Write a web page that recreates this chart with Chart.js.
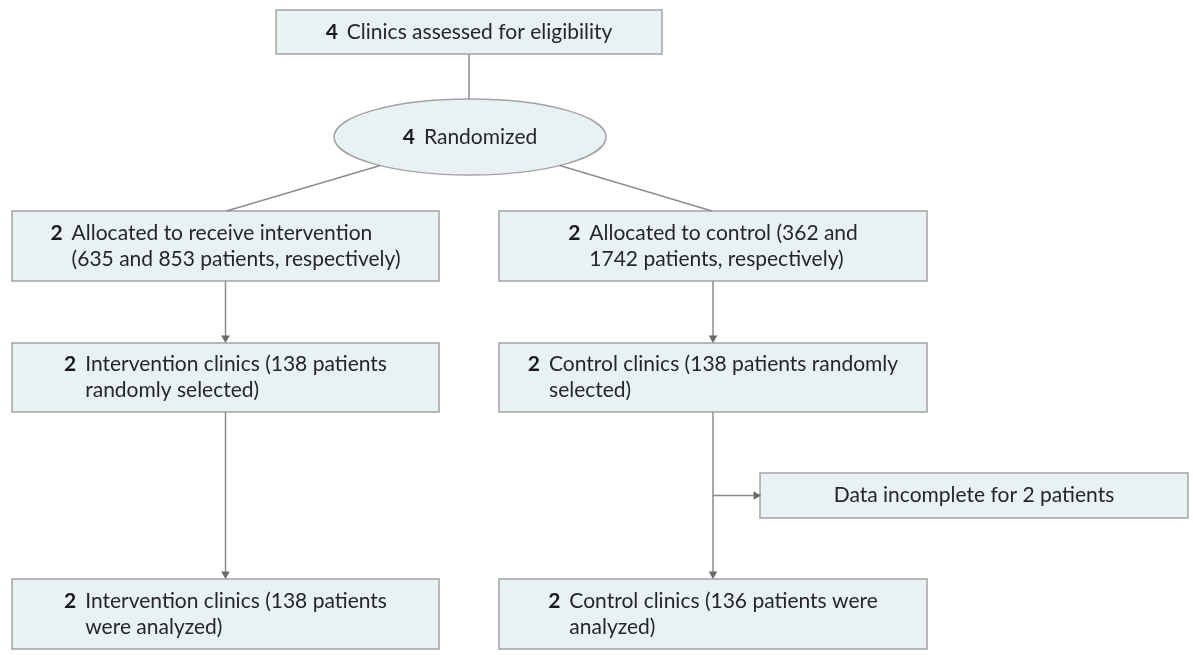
<!DOCTYPE html>
<html lang="en">
<head>
  <meta charset="UTF-8">
  <title>Flow diagram</title>
  <style>
    body { margin: 0; background: #fff; }
    #wrap { width: 1193px; height: 655px; }
  </style>
</head>
<body>
  <div id="wrap">
    <canvas id="myChart" width="1193" height="655"></canvas>
  </div>

  <script src="https://cdn.jsdelivr.net/npm/chart.js"></script>

  <script>
    // node content
    const nodeCounts = ['4', '4', '2', '2', '2', '2', '', '2', '2'];
    const nodeTexts = [
      ['Clinics assessed for eligibility'],
      ['Randomized'],
      ['Allocated to receive intervention', '(635 and 853 patients, respectively)'],
      ['Allocated to control (362 and', '1742 patients, respectively)'],
      ['Intervention clinics (138 patients', 'randomly selected)'],
      ['Control clinics (138 patients randomly', 'selected)'],
      ['Data incomplete for 2 patients'],
      ['Intervention clinics (138 patients', 'were analyzed)'],
      ['Control clinics (136 patients were', 'analyzed)']
    ];
    const nodeShapes = ['box', 'ellipse', 'box', 'box', 'box', 'box', 'box', 'box', 'box'];

    // node extents in diagram units [x0, y0, x1, y1]
    const nodeBoxes = [
      [276, 10, 662, 54],
      [334, 99, 606, 175],
      [12, 211, 439, 281],
      [499, 211, 927, 281],
      [12, 343, 439, 412],
      [499, 343, 927, 412],
      [760, 473, 1188, 518],
      [12, 579, 439, 649],
      [499, 579, 927, 649]
    ];

    // connections: [from, to, kind]
    const edges = [
      [0, 1, 'plain'],
      [1, 2, 'splitL'],
      [1, 3, 'splitR'],
      [2, 4, 'arrow'],
      [3, 5, 'arrow'],
      [4, 7, 'arrow'],
      [5, 8, 'arrow'],
      [5, 6, 'branch']
    ];

    const cx = b => (b[0] + b[2]) / 2;
    const cy = b => (b[1] + b[3]) / 2;

    function edgePoints(e) {
      const a = nodeBoxes[e[0]], b = nodeBoxes[e[1]];
      if (e[2] === 'plain') return [{x: cx(a), y: a[3]}, {x: cx(a), y: b[1]}];
      if (e[2] === 'splitL' || e[2] === 'splitR') {
        const rx = (a[2] - a[0]) / 2, ry = (a[3] - a[1]) / 2;
        const dx = (e[2] === 'splitL' ? -0.66 : 0.66) * rx;
        const y = cy(a) + ry * Math.sqrt(1 - 0.66 * 0.66);
        return [{x: cx(a) + dx, y: y}, {x: cx(b) + (e[2] === 'splitL' ? 1 : -1), y: b[1]}];
      }
      if (e[2] === 'branch') return [{x: cx(a), y: cy(b)}, {x: b[0] - 4, y: cy(b)}];
      return [{x: cx(a), y: a[3]}, {x: cx(a), y: b[1] - 5}];
    }

    const lineColor = '#8c8c8c';
    const datasets = edges.map(e => {
      const head = e[2] === 'arrow' || e[2] === 'branch';
      return {
        data: edgePoints(e),
        showLine: true,
        borderColor: lineColor,
        borderWidth: 1.5,
        pointRadius: head ? [0, 5] : 0,
        pointStyle: 'triangle',
        rotation: e[2] === 'branch' ? 90 : 180,
        pointBackgroundColor: '#6a6a6a',
        pointBorderColor: '#6a6a6a',
        pointBorderWidth: 0,
        clip: false
      };
    });

    const fontFamily = 'Lato, "Liberation Sans", sans-serif';
    const fontSize = 21;

    const nodesPlugin = {
      id: 'nodes',
      beforeDatasetsDraw(chart) {
        const c = chart.ctx, xs = chart.scales.x, ys = chart.scales.y;
        c.save();
        nodeBoxes.forEach((b, i) => {
          const x0 = xs.getPixelForValue(b[0]), x1 = xs.getPixelForValue(b[2]);
          const y0 = ys.getPixelForValue(b[1]), y1 = ys.getPixelForValue(b[3]);
          c.fillStyle = '#e8f1f4';
          c.strokeStyle = '#a3a3a3';
          c.lineWidth = 1.5;
          c.beginPath();
          if (nodeShapes[i] === 'ellipse') {
            c.ellipse((x0 + x1) / 2, (y0 + y1) / 2, (x1 - x0) / 2, (y1 - y0) / 2, 0, 0, Math.PI * 2);
          } else {
            c.rect(x0, y0, x1 - x0, y1 - y0);
          }
          c.fill();
          c.stroke();
        });
        c.restore();
      },
      afterDatasetsDraw(chart) {
        const c = chart.ctx, xs = chart.scales.x, ys = chart.scales.y;
        c.save();
        c.textBaseline = 'middle';
        c.textAlign = 'left';
        const lh = 26;
        nodeBoxes.forEach((b, i) => {
          const mx = xs.getPixelForValue(cx(b)), my = ys.getPixelForValue(cy(b));
          const lines = nodeTexts[i];
          c.font = 'bold ' + fontSize + 'px ' + fontFamily;
          const nw = nodeCounts[i] ? c.measureText(nodeCounts[i]).width + 9 : 0;
          c.font = fontSize + 'px ' + fontFamily;
          const tw = Math.max(...lines.map(l => c.measureText(l).width));
          const left = mx - (nw + tw) / 2;
          const top = my - (lines.length - 1) * lh / 2;
          if (nodeCounts[i]) {
            c.font = 'bold ' + fontSize + 'px ' + fontFamily;
            c.fillStyle = '#1a1a1a';
            c.fillText(nodeCounts[i], left, top);
          }
          c.font = fontSize + 'px ' + fontFamily;
          c.fillStyle = '#262626';
          lines.forEach((l, k) => c.fillText(l, left + nw, top + k * lh));
        });
        c.restore();
      }
    };

    const ctx = document.getElementById('myChart').getContext('2d');
    const chart = new Chart(ctx, {
      type: 'scatter',
      data: { datasets: datasets },
      options: {
        responsive: false,
        devicePixelRatio: 1,
        animation: false,
        layout: { padding: 0, autoPadding: false },
        plugins: {
          legend: { display: false },
          tooltip: { enabled: false }
        },
        scales: {
          x: { type: 'linear', min: 0, max: 1193, display: false },
          y: { type: 'linear', min: 0, max: 655, reverse: true, display: false }
        }
      },
      plugins: [nodesPlugin]
    });
  </script>
</body>
</html>
